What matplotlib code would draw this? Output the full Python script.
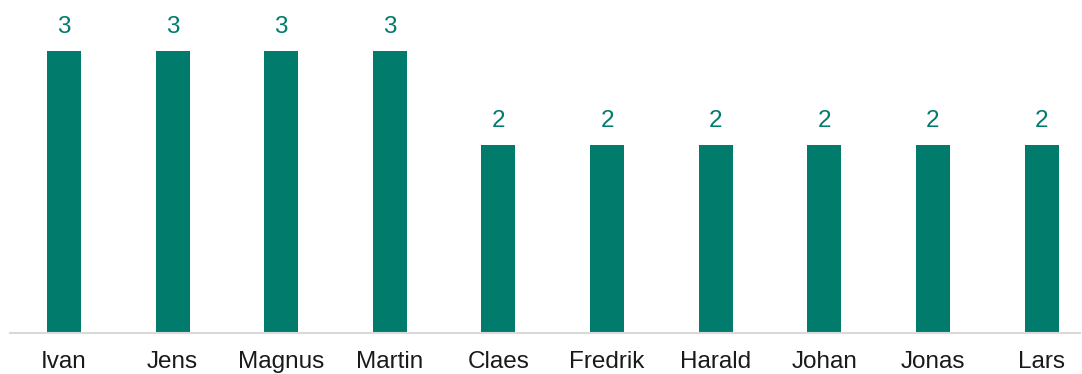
import matplotlib
matplotlib.use('Agg')
from matplotlib import pyplot as plt

names = ['Ivan', 'Jens', 'Magnus', 'Martin', 'Claes', 'Fredrik', 'Harald', 'Johan', 'Jonas', 'Lars']
counts = [3, 3, 3, 3, 2, 2, 2, 2, 2, 2]

bar_color = '#007B6C'

plt.rcParams['font.family'] = ['Liberation Sans', 'DejaVu Sans']

fig = plt.figure(figsize=(10.82, 3.74), dpi=100)
ax = fig.add_axes([10 / 1082, 41 / 374, 1070 / 1082, 333 / 374])

x = list(range(len(names)))
ax.bar(x, counts, width=0.313, color=bar_color)

for xi, c in zip(x, counts):
    ax.text(xi, c + 0.26, str(c), ha='center', va='center', fontsize=17.5, color=bar_color)

ax.set_xlim(-0.497, 9.354)
ax.set_ylim(0, 3.543)
ax.set_xticks(x)
ax.set_xticklabels(names, fontsize=17.5, color='#1a1a1a')
ax.tick_params(axis='x', length=0, pad=13)
ax.set_yticks([])

for side in ['top', 'right', 'left']:
    ax.spines[side].set_visible(False)
ax.spines['bottom'].set_color('#d9d9d9')
ax.spines['bottom'].set_linewidth(1.5)

fig.savefig('out.png', dpi=100)
